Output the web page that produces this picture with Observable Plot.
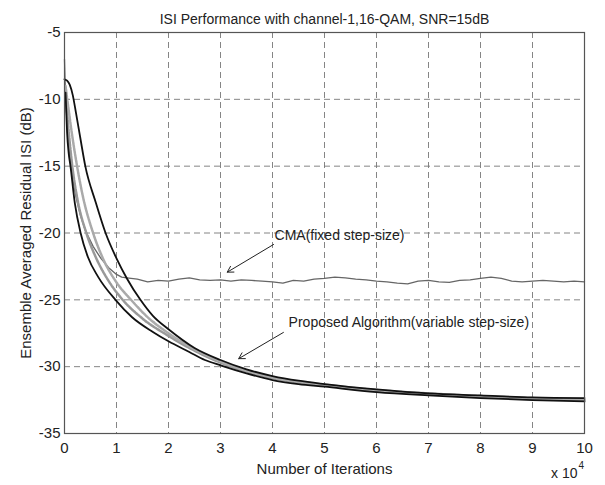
<!DOCTYPE html>
<html><head><meta charset="utf-8">
<script src="https://cdn.jsdelivr.net/npm/d3@7"></script>
<script src="https://cdn.jsdelivr.net/npm/@observablehq/plot@0.6"></script>
<style>body{margin:0;background:#fff}</style>
</head><body><div id="chart"></div>
<script>
const titleText = "ISI Performance with channel-1,16-QAM, SNR=15dB";
const xLabel = "Number of Iterations";
const yLabel = "Ensemble Averaged Residual ISI (dB)";
const xTicks = [0,1,2,3,4,5,6,7,8,9,10];
const yTicks = [-35,-30,-25,-20,-15,-10,-5];

// Proposed algorithm, upper (black) curve
const upX = [0,0.05,0.1,0.16,0.22,0.3,0.4,0.6,0.79,1.0,1.2,1.46,1.7,2.0,2.5,3.0,3.5,4,4.5,5,6,7,8,9,10];
const upY = [-8.5,-8.6,-8.9,-9.7,-11,-12.8,-15,-17.7,-20,-21.9,-23.4,-25,-26.2,-27.2,-28.6,-29.5,-30.2,-30.7,-31.05,-31.3,-31.7,-32.0,-32.15,-32.3,-32.35];
// Proposed algorithm, lower (black) curve
const loX = [0.02,0.03,0.05,0.08,0.115,0.2,0.31,0.45,0.65,0.98,1.3,1.7,2.0,2.4,2.7,3.0,3.5,4,4.5,5,6,7,8,9,10];
const loY = [-9.5,-10.5,-12.5,-14,-15,-17.8,-20,-21.8,-23.3,-25,-26.3,-27.4,-28.1,-28.9,-29.5,-29.9,-30.5,-31.0,-31.3,-31.5,-31.9,-32.15,-32.35,-32.5,-32.6];
// Proposed algorithm, middle (gray) curves
const mAX = [0.02,0.05,0.1,0.15,0.25,0.42,0.6,0.85,1.12,1.5,2.0,2.5,3,3.5,4,5,6,7,8,9,10];
const mAY = [-9.3,-11,-13.2,-15,-17.5,-20,-21.8,-23.6,-25,-26.4,-27.7,-28.8,-29.7,-30.35,-30.85,-31.4,-31.8,-32.05,-32.25,-32.4,-32.5];
const mBX = [0.02,0.07,0.14,0.22,0.35,0.55,0.75,1.0,1.28,1.6,2.0,2.5,3,3.5,4,5,6,7,8,9,10];
const mBY = [-9.0,-10.5,-12.5,-14.5,-17.2,-20,-22,-23.7,-25,-26.3,-27.5,-28.7,-29.6,-30.3,-30.8,-31.35,-31.75,-32.0,-32.2,-32.35,-32.45];
// CMA (fixed step-size)
const cmaX = [0,0.01,0.03,0.06,0.1,0.15,0.22,0.3,0.4,0.55,0.7,0.85,1.0,1.1,
  1.2,1.4,1.6,1.8,2.0,2.2,2.4,2.6,2.8,3.0,3.2,3.4,3.6,3.8,4.0,4.2,4.4,4.6,4.8,5.0,
  5.2,5.4,5.6,5.8,6.0,6.2,6.4,6.6,6.8,7.0,7.2,7.4,7.6,7.8,8.0,8.2,8.4,8.6,8.8,9.0,9.2,9.4,9.6,9.8,10.0];
const cmaY = [-7,-8.5,-10.5,-12.5,-14.2,-15.8,-17.3,-18.6,-19.8,-21.0,-21.9,-22.6,-23.1,-23.3,
  -23.35,-23.45,-23.65,-23.55,-23.6,-23.45,-23.35,-23.5,-23.55,-23.5,-23.6,-23.5,-23.55,-23.6,-23.65,-23.75,-23.55,-23.6,-23.45,-23.4,
  -23.3,-23.35,-23.45,-23.5,-23.6,-23.65,-23.75,-23.8,-23.6,-23.55,-23.65,-23.7,-23.55,-23.5,-23.4,-23.3,-23.4,-23.6,-23.65,-23.6,-23.55,-23.6,-23.65,-23.6,-23.65];

// annotations
const annoText = ["CMA(fixed step-size)", "Proposed Algorithm(variable step-size)"];
const annoX = [4.04, 4.31];
const annoY = [-20.2, -26.7];
const arrowX1 = [4.02, 4.21], arrowY1 = [-20.86, -27.44];
const arrowX2 = [3.13, 3.35], arrowY2 = [-22.93, -29.4];

const toPts = (xs, ys) => xs.map((x, i) => ({x, y: ys[i]}));
const annos = annoText.map((t, i) => ({t, x: annoX[i], y: annoY[i]}));
const arrows = arrowX1.map((x, i) => ({x1: x, y1: arrowY1[i], x2: arrowX2[i], y2: arrowY2[i]}));

const font = "Liberation Sans, Arial, sans-serif";
const chart = Plot.plot({
  width: 605, height: 485,
  marginLeft: 64, marginRight: 21, marginTop: 32, marginBottom: 52,
  style: {fontFamily: font, fontSize: "14px", color: "#222", background: "#fff"},
  x: {domain: [0, 10]},
  y: {domain: [-35, -5]},
  marks: [
    Plot.gridX(xTicks.slice(1, -1), {stroke: "#777", strokeOpacity: 1, strokeWidth: 0.9, strokeDasharray: "6,4"}),
    Plot.gridY(yTicks.slice(1, -1), {stroke: "#777", strokeOpacity: 1, strokeWidth: 0.9, strokeDasharray: "6,4"}),
    Plot.line(toPts(cmaX, cmaY), {x: "x", y: "y", stroke: "#666", strokeWidth: 1.3}),
    Plot.line(toPts(mAX, mAY), {x: "x", y: "y", stroke: "#999", strokeWidth: 2.5, strokeDasharray: "2,1", curve: "monotone-x"}),
    Plot.line(toPts(mBX, mBY), {x: "x", y: "y", stroke: "#aaa", strokeWidth: 2.5, strokeDasharray: "2,1", curve: "monotone-x"}),
    Plot.line(toPts(upX, upY), {x: "x", y: "y", stroke: "#111", strokeWidth: 1.8, curve: "monotone-x"}),
    Plot.line(toPts(loX, loY), {x: "x", y: "y", stroke: "#111", strokeWidth: 1.8, curve: "monotone-x"}),
    Plot.arrow(arrows, {x1: "x1", y1: "y1", x2: "x2", y2: "y2", stroke: "#222", strokeWidth: 1, headLength: 10, bend: 0}),
    Plot.text(annos, {x: "x", y: "y", text: "t", textAnchor: "start", fontSize: 14, fill: "#222"}),
    Plot.axisX(xTicks, {tickSize: 0, tickPadding: 9, fontSize: 15, tickFormat: d => `${d}`, label: xLabel, labelAnchor: "center", labelArrow: "none", labelOffset: 40}),
    Plot.axisY(yTicks, {tickSize: 0, tickPadding: 4, fontSize: 15, tickFormat: d => `${d}`, label: yLabel, labelAnchor: "center", labelArrow: "none", labelOffset: 44}),
    Plot.frame({stroke: "#555", strokeWidth: 1.2}),
    Plot.text([titleText], {frameAnchor: "top", dy: -18, fontSize: 14, fill: "#222"}),
    Plot.text(["x 10"], {frameAnchor: "bottom-right", textAnchor: "end", dx: -7, dy: 44, fontSize: 14, fill: "#222"}),
    Plot.text(["4"], {frameAnchor: "bottom-right", textAnchor: "start", dx: -6, dy: 35, fontSize: 10, fill: "#222"})
  ]
});
document.getElementById("chart").appendChild(chart);
</script>
</body></html>
